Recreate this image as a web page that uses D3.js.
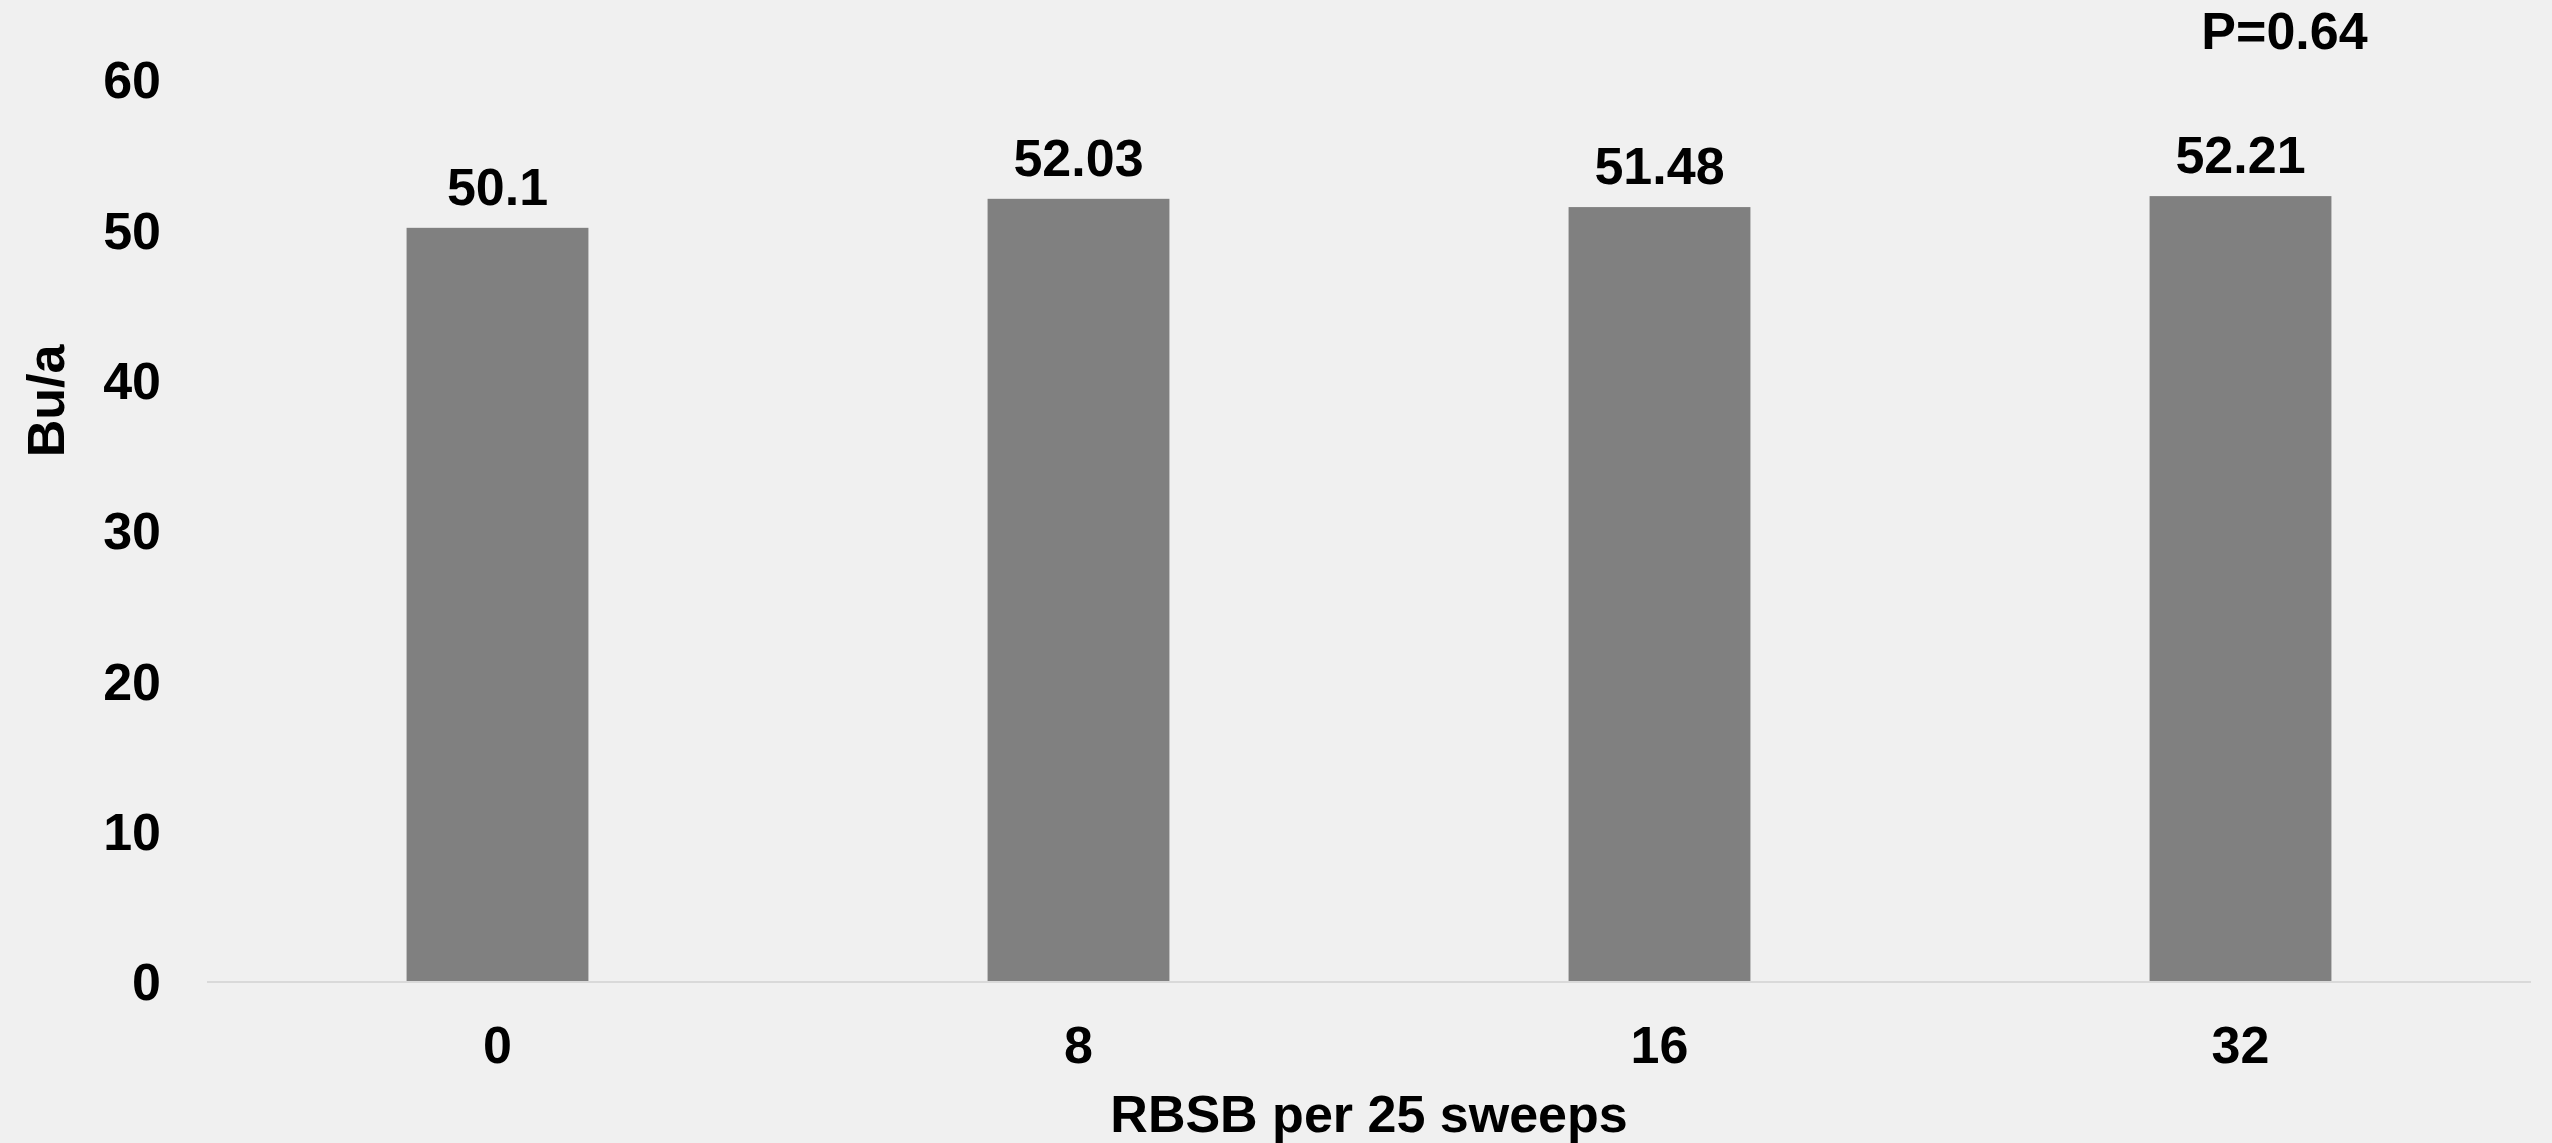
<!DOCTYPE html>
<html>
<head>
<meta charset="utf-8">
<script src="https://cdn.jsdelivr.net/npm/d3@7"></script>
<style>
  html, body { margin: 0; padding: 0; background: #f0f0f0; }
  svg { display: block; }
  text { font-family: "Liberation Sans", Arial, sans-serif; font-weight: bold; fill: #000; }
</style>
</head>
<body>
<svg id="chart" width="2552" height="1143"></svg>
<script>
const categories = ["0", "8", "16", "32"];
const yieldValues = [50.1, 52.03, 51.48, 52.21];
const valueLabels = ["50.1", "52.03", "51.48", "52.21"];
const yTicks = [0, 10, 20, 30, 40, 50, 60];
const xAxisTitle = "RBSB per 25 sweeps";
const yAxisTitle = "Bu/a";
const pValueText = "P=0.64";

const W = 2552, H = 1143;
const svg = d3.select("#chart");
svg.append("rect").attr("width", W).attr("height", H).attr("fill", "#f0f0f0");

const plotLeft = 207, plotRight = 2531, plotTop = 79, plotBottom = 981;
const fontSize = 52;

const x = d3.scaleBand()
  .domain(categories)
  .range([plotLeft, plotRight])
  .paddingInner(0.687)
  .paddingOuter(0.3435);

const y = d3.scaleLinear().domain([0, 60]).range([plotBottom, plotTop]);

// bars
svg.append("g").selectAll("rect")
  .data(categories)
  .join("rect")
  .attr("x", d => x(d))
  .attr("width", x.bandwidth())
  .attr("y", (d, i) => y(yieldValues[i]))
  .attr("height", (d, i) => y(0) - y(yieldValues[i]))
  .attr("fill", "#808080");

// x axis line
svg.append("line")
  .attr("x1", plotLeft).attr("x2", plotRight)
  .attr("y1", y(0) + 1).attr("y2", y(0) + 1)
  .attr("stroke", "#d9d9d9").attr("stroke-width", 2);

// y axis (labels only)
const yAxis = d3.axisLeft(y).tickValues(yTicks).tickSize(0).tickPadding(0).tickFormat(d3.format("d"));
const gy = svg.append("g").attr("transform", `translate(161,0)`).call(yAxis);
gy.select(".domain").remove();
gy.selectAll("text")
  .attr("font-size", fontSize)
  .attr("font-family", "Liberation Sans, Arial, sans-serif")
  .attr("font-weight", "bold")
  .attr("fill", "#000")
  .attr("dy", "0.36em");

// x axis labels
const xAxis = d3.axisBottom(x).tickSize(0).tickPadding(0);
const gx = svg.append("g").attr("transform", `translate(0,${y(0)})`).call(xAxis);
gx.select(".domain").remove();
gx.selectAll("text")
  .attr("font-size", fontSize)
  .attr("font-family", "Liberation Sans, Arial, sans-serif")
  .attr("font-weight", "bold")
  .attr("fill", "#000")
  .attr("dy", null)
  .attr("y", 82);

// value labels
svg.append("g").selectAll("text")
  .data(categories)
  .join("text")
  .attr("x", d => x(d) + x.bandwidth() / 2)
  .attr("y", (d, i) => y(yieldValues[i]) - 23)
  .attr("text-anchor", "middle")
  .attr("font-size", fontSize)
  .text((d, i) => valueLabels[i]);

// axis titles
svg.append("text")
  .attr("x", (plotLeft + plotRight) / 2)
  .attr("y", 1132)
  .attr("text-anchor", "middle")
  .attr("font-size", fontSize)
  .text(xAxisTitle);

svg.append("text")
  .attr("transform", `translate(64,401) rotate(-90)`)
  .attr("text-anchor", "middle")
  .attr("font-size", fontSize)
  .text(yAxisTitle);

// P value annotation
svg.append("text")
  .attr("x", x("32") + x.bandwidth() / 2 + 44)
  .attr("y", 49)
  .attr("text-anchor", "middle")
  .attr("font-size", fontSize)
  .text(pValueText);
</script>
</body>
</html>
